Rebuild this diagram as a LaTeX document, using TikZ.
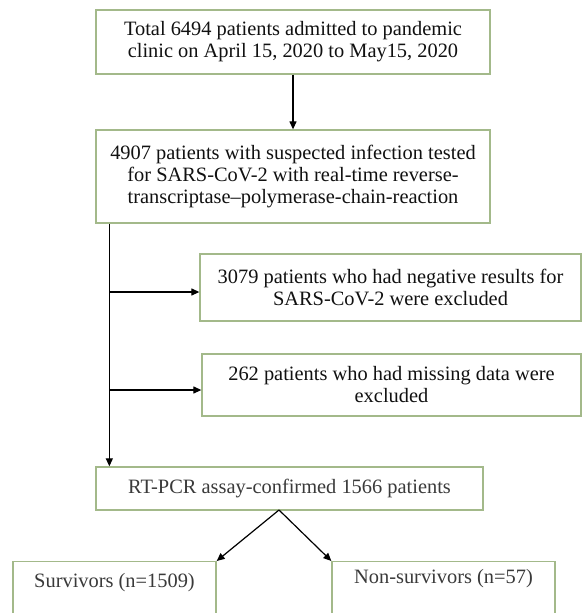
\documentclass[tikz,border=0pt]{standalone}
\usepackage{fontspec}
\setmainfont{Liberation Serif}
\usepackage{tikz}
\usetikzlibrary{arrows.meta,calc,positioning}
\definecolor{flowink}{HTML}{111111}
\definecolor{flowgrey}{HTML}{3A3A3A}
\definecolor{flowframe}{HTML}{A3B98A}

\begin{document}
\begin{tikzpicture}[x=1pt,y=-1pt,>={Triangle[length=8pt,width=7pt]},
  font=\fontsize{20.4}{22}\selectfont,text=flowink,
  stage/.style={draw=flowframe,line width=1.3pt,align=center,inner sep=0pt},
  outcome/.style={stage,anchor=north,text height=14pt,text depth=44pt,text=flowgrey},
  arr/.style={->,line width=1.2pt,draw=black}]
\path[use as bounding box] (0,0) rectangle (582,613);
\clip (0,0) rectangle (582,613);
\fill[white] (0,0) rectangle (582,613);

% screening boxes
\node[stage,minimum width=394pt,minimum height=64pt] (admit) at (293,42)
  {Total 6494 patients admitted to pandemic\\clinic on April 15, 2020 to May15, 2020};
\node[stage,minimum width=394pt,minimum height=93pt] (tested) at (293,176.5)
  {4907 patients with suspected infection tested\\for SARS-CoV-2 with real-time reverse-\\transcriptase--polymerase-chain-reaction};
\node[stage,minimum width=381pt,minimum height=67pt] (negative) at (390.5,287.5)
  {3079 patients who had negative results for\\SARS-CoV-2 were excluded};
\node[stage,minimum width=379pt,minimum height=62pt] (missing) at (391.5,385)
  {262 patients who had missing data were\\excluded};
\node[stage,minimum width=387pt,minimum height=43pt,text=flowgrey] (confirmed) at (289.5,488.5)
  {RT-PCR assay-confirmed 1566 patients};

% outcome boxes (cut by the lower edge)
\node[outcome,minimum width=203pt,inner ysep=12pt] (surv) at (114.5,561) {Survivors (n=1509)};
\node[outcome,minimum width=223pt,inner ysep=8pt] (nonsurv) at (443.5,561) {Non-survivors (n=57)};

% trunk and exclusions
\coordinate (split) at ($(tested.south west)+(14,0)$);
\coordinate (join) at ($(confirmed.north west)+(14,0)$);
\coordinate (neg) at (110,292);
\coordinate (miss) at (110,390);
\draw[arr] (admit.south) -- (tested.north);
\draw[arr] (split) -- (join);
\draw[arr] (neg) -- (neg -| negative.west);
\draw[arr] (miss) -- (miss -| missing.west);

% split by outcome
\coordinate (fork) at (279,510);
\draw[arr] (fork) -- (surv.north east);
\draw[arr] (fork) -- (nonsurv.north west);
\end{tikzpicture}
\end{document}
